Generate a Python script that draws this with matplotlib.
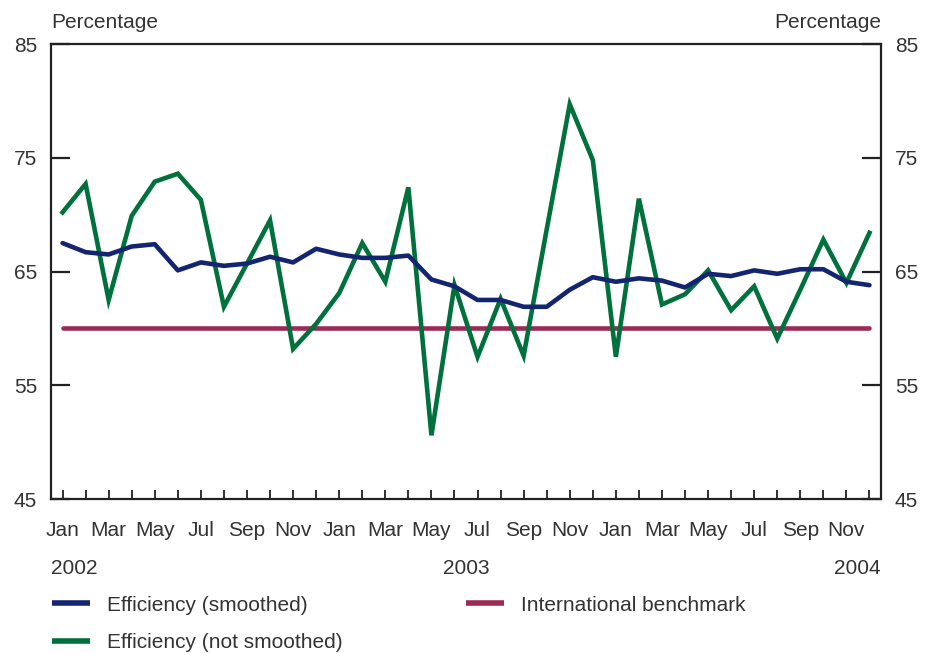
import numpy as np
import matplotlib.pyplot as plt

plt.rcParams['font.family'] = ['Liberation Sans', 'DejaVu Sans']

# Monthly observations, Jan 2002 - Dec 2004
months = ['Jan', 'Feb', 'Mar', 'Apr', 'May', 'Jun',
          'Jul', 'Aug', 'Sep', 'Oct', 'Nov', 'Dec'] * 3
years = ['2002', '2003', '2004']

smoothed = [67.5, 66.7, 66.5, 67.2, 67.4, 65.1, 65.8, 65.5, 65.7, 66.3, 65.8, 67.0,
            66.5, 66.2, 66.2, 66.4, 64.3, 63.7, 62.5, 62.5, 61.9, 61.9, 63.4, 64.5,
            64.1, 64.4, 64.2, 63.6, 64.8, 64.6, 65.1, 64.8, 65.2, 65.2, 64.1, 63.8]
not_smoothed = [70.2, 72.7, 62.5, 69.9, 72.9, 73.6, 71.3, 61.9, 65.7, 69.5, 58.2, 60.4,
                63.1, 67.5, 64.1, 72.4, 50.6, 63.8, 57.5, 62.6, 57.6, 68.7, 79.7, 74.8,
                57.5, 71.4, 62.1, 63.0, 65.1, 61.6, 63.7, 59.1, 63.4, 67.8, 64.0, 68.4]
benchmark = [60] * 36

navy = '#13256f'
green = '#00703c'
maroon = '#9b2a55'
txt = '#333333'
fs = 15

fig = plt.figure(figsize=(9.26, 6.53), dpi=100)
ax = fig.add_axes([0.0551, 0.2358, 0.8963, 0.6968])

x = np.arange(len(months))
ax.plot(x, benchmark, color=maroon, lw=3.3, solid_capstyle='round',
        label='International benchmark', zorder=2)
ax.plot(x, not_smoothed, color=green, lw=3.3, solid_joinstyle='miter',
        label='Efficiency (not smoothed)', zorder=3)
ax.plot(x, smoothed, color=navy, lw=3.3, solid_capstyle='round',
        label='Efficiency (smoothed)', zorder=4)

ax.set_xlim(-0.5, 35.5)
ax.set_ylim(45, 85)
ax.set_yticks([45, 55, 65, 75, 85])
ax.set_xticks(x)
ax.set_xticklabels([m if i % 2 == 0 else '' for i, m in enumerate(months)])

for s in ax.spines.values():
    s.set_linewidth(1.6)
    s.set_color('#222222')

ax.tick_params(axis='y', direction='in', length=14, width=1.6, color='#222222',
               left=True, right=True, labelleft=True, labelright=True,
               labelsize=fs, labelcolor=txt, pad=10)
ax.tick_params(axis='x', direction='in', length=6.5, width=1.3, color='#222222',
               labelsize=fs, labelcolor=txt, pad=16)
for t in ax.yaxis.get_major_ticks():
    if t.get_loc() in (45, 85):
        t.tick1line.set_visible(False)
        t.tick2line.set_visible(False)

ax.text(0, 1.027, 'Percentage', transform=ax.transAxes, ha='left', va='bottom',
        fontsize=fs, color=txt)
ax.text(1, 1.027, 'Percentage', transform=ax.transAxes, ha='right', va='bottom',
        fontsize=fs, color=txt)

ax.text(0, -0.152, years[0], transform=ax.transAxes, ha='left', va='center',
        fontsize=fs, color=txt)
ax.text(0.5, -0.152, years[1], transform=ax.transAxes, ha='center', va='center',
        fontsize=fs, color=txt)
ax.text(1, -0.152, years[2], transform=ax.transAxes, ha='right', va='center',
        fontsize=fs, color=txt)

h = ax.get_legend_handles_labels()[0]
handles = [h[2], h[1], h[0]]
labels = ['Efficiency (smoothed)', 'Efficiency (not smoothed)', 'International benchmark']
leg = fig.legend(handles, labels, ncol=2, loc='upper left',
                 bbox_to_anchor=(0.056, 0.088), frameon=False, fontsize=fs,
                 handlelength=1.83, handletextpad=0.82, columnspacing=5.9,
                 labelspacing=0.88, borderaxespad=0, borderpad=0)
for t in leg.get_texts():
    t.set_color(txt)
for l in leg.get_lines():
    l.set_linewidth(4)
    l.set_solid_capstyle('butt')

fig.savefig('out.png', dpi=100)
